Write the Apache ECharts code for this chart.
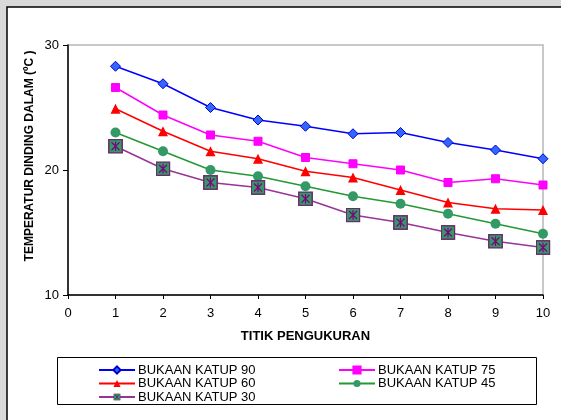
<!DOCTYPE html>
<html>
<head>
<meta charset="utf-8">
<script src="https://cdn.jsdelivr.net/npm/echarts@6/dist/echarts.min.js"></script>
<style>
  html, body { margin: 0; padding: 0; background: #d9d9d9; }
  #chart { width: 561px; height: 420px; }
</style>
</head>
<body>
<div id="chart"></div>
<script>
// Measuring points along the wall
const points = [1, 2, 3, 4, 5, 6, 7, 8, 9, 10];

// Inner wall temperature (°C) for each valve opening
const katup90 = [28.3, 26.9, 25.0, 24.0, 23.5, 22.9, 23.0, 22.2, 21.6, 20.9];
const katup75 = [26.6, 24.4, 22.8, 22.3, 21.0, 20.5, 20.0, 19.0, 19.3, 18.8];
const katup60 = [24.9, 23.1, 21.5, 20.9, 19.9, 19.4, 18.4, 17.4, 16.9, 16.8];
const katup45 = [23.0, 21.5, 20.0, 19.5, 18.7, 17.9, 17.3, 16.5, 15.7, 14.9];
const katup30 = [21.9, 20.1, 19.0, 18.6, 17.7, 16.4, 15.8, 15.0, 14.3, 13.8];

const xTicks = [0, 10, 1];   // min, max, step
const yTicks = [10, 30, 10]; // min, max, step

const yTitle = 'TEMPERATUR DINDING DALAM (ºC )';
const xTitle = 'TITIK PENGUKURAN';

// Boxed asterisk marker for the 30 series
const boxStar = 'image://data:image/svg+xml;charset=utf-8,' + encodeURIComponent(
  "<svg xmlns='http://www.w3.org/2000/svg' width='30' height='30' viewBox='0 0 15 15'>" +
  "<rect x='0.8' y='0.8' width='13.4' height='13.4' fill='#339966' stroke='#6b2a6b' stroke-width='1.5'/>" +
  "<path d='M3.5 3.5L11.5 11.5M11.5 3.5L3.5 11.5M7.5 2.8V12.2' stroke='#800080' stroke-width='1.2' fill='none'/>" +
  "</svg>");

const pairs = v => points.map((p, i) => [p, v[i]]);

const chart = echarts.init(document.getElementById('chart'), null, { renderer: 'canvas' });

const font = 'Liberation Sans, Arial, sans-serif';

const legendText = { fontFamily: font, fontSize: 13, lineHeight: 12, color: '#000', padding: [0, 0, 0, -2] };

chart.setOption({
  backgroundColor: '#d9d9d9',
  animation: false,
  textStyle: { fontFamily: font },
  graphic: [
    {
      type: 'rect', z: -100, silent: true,
      shape: { x: 7, y: 7, width: 600, height: 500 },
      style: { fill: '#ffffff', stroke: '#000000', lineWidth: 1.5 }
    },
    {
      type: 'rect', z: -50, silent: true,
      shape: { x: 57.5, y: 357.5, width: 479, height: 47 },
      style: { fill: '#ffffff', stroke: '#000000', lineWidth: 1 }
    },
    {
      type: 'text', silent: true,
      x: 30, y: 156, rotation: Math.PI / 2,
      style: {
        text: yTitle, fill: '#000', align: 'center', verticalAlign: 'middle',
        font: 'bold 12px Liberation Sans, Arial, sans-serif'
      }
    }
  ],
  grid: {
    left: 68, right: 18, top: 45, bottom: 125,
    show: true, borderColor: '#b8b8b8', borderWidth: 1.5, backgroundColor: 'transparent'
  },
  xAxis: {
    type: 'value', min: xTicks[0], max: xTicks[1], interval: xTicks[2],
    name: xTitle, nameLocation: 'middle', nameGap: 35,
    nameTextStyle: { fontFamily: font, fontWeight: 'bold', fontSize: 13, color: '#000' },
    axisLine: { show: true, lineStyle: { color: '#000', width: 1.5 } },
    axisTick: { show: true, length: 4, lineStyle: { color: '#000' } },
    axisLabel: { fontFamily: font, fontSize: 13, color: '#000', margin: 12 },
    splitLine: { show: false }
  },
  yAxis: {
    type: 'value', min: yTicks[0], max: yTicks[1], interval: yTicks[2],
    axisLine: { show: true, lineStyle: { color: '#000', width: 1.5 } },
    axisTick: { show: true, length: 5, inside: false, lineStyle: { color: '#000' } },
    axisLabel: { fontFamily: font, fontSize: 13, color: '#000', margin: 9 },
    splitLine: { show: false }
  },
  legend: [
    {
      data: ['BUKAAN KATUP 90', 'BUKAAN KATUP 60', 'BUKAAN KATUP 30'],
      orient: 'vertical', left: 98, top: 363.5,
      itemWidth: 36, itemHeight: 9, itemGap: 0.5,
      textStyle: legendText, padding: 0
    },
    {
      data: ['BUKAAN KATUP 75', 'BUKAAN KATUP 45'],
      orient: 'vertical', left: 338, top: 363.5,
      itemWidth: 36, itemHeight: 9, itemGap: 0.5,
      textStyle: legendText, padding: 0
    }
  ],
  series: [
    {
      name: 'BUKAAN KATUP 90', type: 'line', data: pairs(katup90),
      symbol: 'diamond', symbolSize: 10,
      lineStyle: { color: '#0000ff', width: 1.5 },
      itemStyle: { color: '#3366ff', borderColor: '#0000cc', borderWidth: 1 }
    },
    {
      name: 'BUKAAN KATUP 75', type: 'line', data: pairs(katup75),
      symbol: 'rect', symbolSize: 8,
      lineStyle: { color: '#ff00ff', width: 1.5 },
      itemStyle: { color: '#ff00ff', borderColor: '#ff00ff', borderWidth: 1 }
    },
    {
      name: 'BUKAAN KATUP 60', type: 'line', data: pairs(katup60),
      symbol: 'triangle', symbolSize: 10,
      lineStyle: { color: '#ff0000', width: 1.5 },
      itemStyle: { color: '#ff0000', borderColor: '#ff0000', borderWidth: 0 }
    },
    {
      name: 'BUKAAN KATUP 45', type: 'line', data: pairs(katup45),
      symbol: 'circle', symbolSize: 10,
      lineStyle: { color: '#229933', width: 1.5 },
      itemStyle: { color: '#339966', borderColor: '#339966', borderWidth: 0 }
    },
    {
      name: 'BUKAAN KATUP 30', type: 'line', data: pairs(katup30),
      symbol: boxStar, symbolSize: 15,
      lineStyle: { color: '#993399', width: 1.5 },
      itemStyle: { color: '#993399' }
    }
  ]
});
</script>
</body>
</html>
